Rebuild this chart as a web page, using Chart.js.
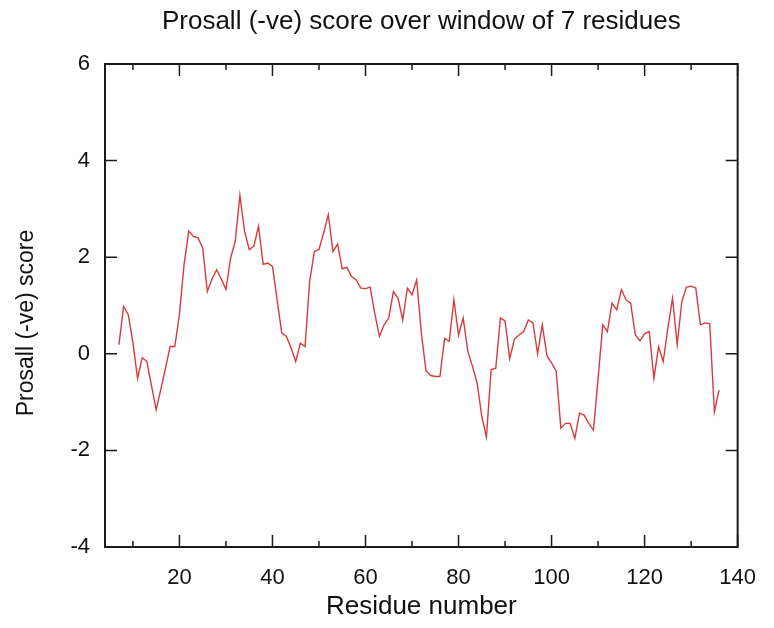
<!DOCTYPE html>
<html>
<head>
<meta charset="utf-8">
<script src="https://cdn.jsdelivr.net/npm/chart.js@4/dist/chart.umd.min.js"></script>
<style>
  html, body { margin: 0; padding: 0; background: #fff; }
  #wrap { width: 774px; height: 628px; }
</style>
</head>
<body>
<div id="wrap"><canvas id="prosaChart"></canvas></div>
<script>
// Prosall (-ve) score, one value per residue, starting at residue 7
var firstResidue = 7;
var scores = [
    0.19, 0.98, 0.81, 0.23, -0.51, -0.08, -0.16, -0.66, -1.16, -0.73,
    -0.30, 0.15, 0.15, 0.81, 1.85, 2.54, 2.43, 2.40, 2.19, 1.29,
    1.55, 1.74, 1.55, 1.33, 1.98, 2.33, 3.28, 2.54, 2.16, 2.23,
    2.64, 1.85, 1.88, 1.81, 1.12, 0.43, 0.36, 0.12, -0.16, 0.22,
    0.15, 1.50, 2.12, 2.16, 2.50, 2.88, 2.12, 2.27, 1.76, 1.79,
    1.60, 1.53, 1.36, 1.35, 1.38, 0.83, 0.36, 0.60, 0.74, 1.29,
    1.15, 0.70, 1.36, 1.22, 1.53, 0.44, -0.35, -0.45, -0.47, -0.47,
    0.32, 0.26, 1.12, 0.39, 0.74, 0.05, -0.26, -0.61, -1.30, -1.72,
    -0.33, -0.30, 0.74, 0.68, -0.10, 0.30, 0.39, 0.46, 0.70, 0.64,
    0.00, 0.60, -0.04, -0.19, -0.36, -1.54, -1.44, -1.44, -1.75, -1.23,
    -1.27, -1.44, -1.58, -0.51, 0.60, 0.46, 1.05, 0.91, 1.33, 1.12,
    1.05, 0.39, 0.27, 0.42, 0.46, -0.51, 0.15, -0.16, 0.53, 1.15,
    0.19, 1.08, 1.38, 1.40, 1.36, 0.60, 0.64, 0.62, -1.20, -0.75
];
var xMajorTicks = [20, 40, 60, 80, 100, 120, 140];
var xMinorTicks = [10, 30, 50, 70, 90, 110, 130];
var yTicks = [-4, -2, 0, 2, 4, 6];

var titleText = 'Prosall (-ve) score over window of 7 residues';
var yTitleText = 'Prosall (-ve) score';

var residues = scores.map(function(_, i) { return firstResidue + i; });
var points = scores.map(function(v, i) { return { x: residues[i], y: v }; });

var fontFamily = "'Liberation Sans', Arial, Helvetica, sans-serif";

// gnuplot style box with inward tick marks, title over the plot box
var framePlugin = {
    id: 'frame',
    afterDatasetsDraw: function(chart) {
        var ctx = chart.ctx;
        var a = chart.chartArea;
        var x = chart.scales.x, y = chart.scales.y;
        ctx.save();
        ctx.strokeStyle = '#1a1a1a';
        ctx.lineWidth = 1.5;
        ctx.beginPath();
        xMajorTicks.forEach(function(v) {
            var px = x.getPixelForValue(v);
            ctx.moveTo(px, a.bottom); ctx.lineTo(px, a.bottom - 12);
            ctx.moveTo(px, a.top); ctx.lineTo(px, a.top + 12);
        });
        xMinorTicks.forEach(function(v) {
            var px = x.getPixelForValue(v);
            ctx.moveTo(px, a.bottom); ctx.lineTo(px, a.bottom - 6);
            ctx.moveTo(px, a.top); ctx.lineTo(px, a.top + 6);
        });
        yTicks.forEach(function(v) {
            var py = y.getPixelForValue(v);
            ctx.moveTo(a.left, py); ctx.lineTo(a.left + 12, py);
            ctx.moveTo(a.right, py); ctx.lineTo(a.right - 12, py);
        });
        ctx.stroke();
        ctx.lineWidth = 2;
        ctx.strokeRect(a.left, a.top, a.right - a.left, a.bottom - a.top);

        ctx.fillStyle = '#111';
        ctx.textAlign = 'center';
        ctx.textBaseline = 'middle';
        ctx.font = '26px ' + fontFamily;
        ctx.fillText(titleText, (a.left + a.right) / 2, 22);

        ctx.font = '23px ' + fontFamily;
        ctx.translate(27, 323);
        ctx.rotate(-Math.PI / 2);
        ctx.fillText(yTitleText, 0, 0);
        ctx.restore();
    }
};

var ctx = document.getElementById('prosaChart').getContext('2d');
new Chart(ctx, {
    type: 'line',
    data: {
        datasets: [{
            label: yTitleText,
            data: points,
            borderColor: '#d63a3c',
            borderWidth: 1.4,
            pointRadius: 0,
            fill: false,
            tension: 0
        }]
    },
    options: {
        responsive: true,
        maintainAspectRatio: false,
        animation: false,
        layout: { padding: { left: 0, right: 29, top: 64, bottom: 0 } },
        plugins: {
            legend: { display: false },
            tooltip: { enabled: false },
            title: { display: false }
        },
        scales: {
            x: {
                type: 'linear',
                min: 4,
                max: 140,
                afterBuildTicks: function(scale) {
                    scale.ticks = xMajorTicks.map(function(v) { return { value: v }; });
                },
                afterFit: function(scale) { scale.height = 81; },
                grid: { display: false, drawTicks: false },
                border: { display: false },
                ticks: {
                    color: '#111',
                    padding: 18,
                    maxRotation: 0,
                    autoSkip: false,
                    font: { family: fontFamily, size: 22 }
                },
                title: {
                    display: true,
                    text: 'Residue number',
                    color: '#111',
                    font: { family: fontFamily, size: 26 },
                    padding: { top: 0, bottom: 6 }
                }
            },
            y: {
                min: -4,
                max: 6,
                afterBuildTicks: function(scale) {
                    scale.ticks = yTicks.map(function(v) { return { value: v }; });
                },
                afterFit: function(scale) { scale.width = 105; },
                grid: { display: false, drawTicks: false },
                border: { display: false },
                ticks: {
                    color: '#111',
                    padding: 15,
                    font: { family: fontFamily, size: 22 }
                }
            }
        }
    },
    plugins: [framePlugin]
});
</script>
</body>
</html>
